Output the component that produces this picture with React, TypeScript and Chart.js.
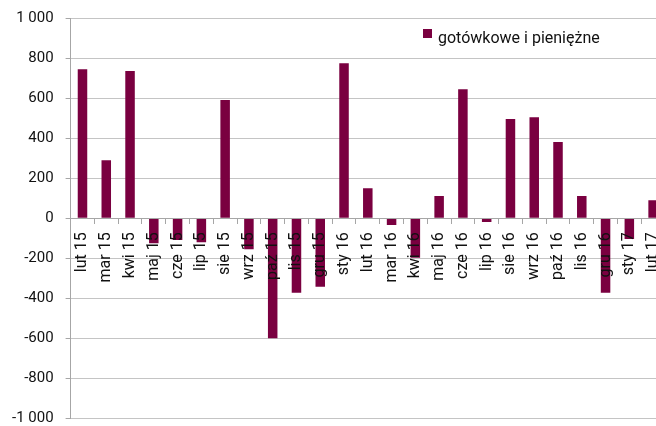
import React, { useEffect, useRef } from "react";
import Chart from "chart.js/auto";

const categories = [
  "lut 15", "mar 15", "kwi 15", "maj 15", "cze 15", "lip 15", "sie 15", "wrz 15",
  "paź 15", "lis 15", "gru 15", "sty 16", "lut 16", "mar 16", "kwi 16", "maj 16",
  "cze 16", "lip 16", "sie 16", "wrz 16", "paź 16", "lis 16", "gru 16", "sty 17", "lut 17",
];
const seriesName = "gotówkowe i pieniężne";
const seriesValues = [
  745, 290, 736, -125, -108, -120, 591, -155,
  -600, -372, -342, 775, 150, -33, -197, 112,
  645, -18, 497, 505, 382, 112, -372, -104, 90,
];
const yMin = -1000;
const yMax = 1000;
const yStep = 200;

const BAR_COLOR = "#7a0040";
const TEXT_COLOR = "#111111";
const AXIS_COLOR = "#a6a6a6";
const FONT = "Roboto";

function formatTick(v: number): string {
  const sign = v < 0 ? "-" : "";
  const s = String(Math.abs(v));
  return sign + s.replace(/\B(?=(\d{3})+(?!\d))/g, " ");
}

const legendPlugin = {
  id: "insideLegend",
  afterDraw(chart: any) {
    const ctx = chart.ctx;
    const ds = chart.data.datasets[0];
    ctx.save();
    ctx.fillStyle = ds.backgroundColor;
    ctx.fillRect(423, 29, 9, 9);
    ctx.fillStyle = TEXT_COLOR;
    ctx.font = `16px ${FONT}`;
    ctx.textBaseline = "alphabetic";
    ctx.textAlign = "left";
    ctx.fillText(ds.label, 438, 43);
    ctx.restore();
  },
};

const zeroPadding = (scale: any) => {
  scale.paddingTop = 0;
  scale.paddingBottom = 0;
  scale.paddingLeft = 0;
  scale.paddingRight = 0;
};

export default function App() {
  const ref = useRef<HTMLCanvasElement | null>(null);
  useEffect(() => {
    document.body.style.margin = "0";
    const canvas = ref.current!;
    const chart = new Chart(canvas, {
      type: "bar",
      data: {
        labels: categories,
        datasets: [
          {
            label: seriesName,
            data: seriesValues,
            backgroundColor: BAR_COLOR,
            borderWidth: 0,
            barPercentage: 0.4,
            categoryPercentage: 1,
          },
        ],
      },
      options: {
        responsive: false,
        animation: false,
        devicePixelRatio: 1,
        layout: { padding: { left: 0, right: 15, top: 18.3, bottom: 7.7 } },
        plugins: {
          legend: { display: false },
          tooltip: { enabled: false },
        },
        scales: {
          x: {
            position: { y: 0 } as any,
            afterFit: zeroPadding,
            grid: {
              display: true,
              drawOnChartArea: false,
              drawTicks: true,
              tickLength: 11,
              tickColor: "rgba(0,0,0,0)",
              color: "rgba(0,0,0,0)",
              offset: true,
            },
            border: { display: true, color: AXIS_COLOR, width: 1, z: 1 },
            ticks: {
              z: 2,
              autoSkip: false,
              minRotation: 90,
              maxRotation: 90,
              color: TEXT_COLOR,
              font: { family: FONT, size: 16 },
            },
          },
          xMarks: {
            type: "category",
            position: { y: 0 } as any,
            afterFit: zeroPadding,
            grid: {
              display: true,
              drawOnChartArea: false,
              drawTicks: true,
              tickLength: 6,
              color: AXIS_COLOR,
              offset: true,
            },
            border: { display: false },
            ticks: { display: false, autoSkip: false },
          },
          y: {
            min: yMin,
            max: yMax,
            afterFit: (scale: any) => {
              scale.width = 70.6;
              scale.paddingTop = 0;
              scale.paddingBottom = 0;
            },
            ticks: {
              stepSize: yStep,
              padding: 12,
              color: TEXT_COLOR,
              font: { family: FONT, size: 15 },
              callback: (v: any) => formatTick(Number(v)),
            },
            grid: {
              color: "#c4c4c4",
              lineWidth: 1,
              tickLength: 5,
              tickColor: AXIS_COLOR,
            },
            border: { display: true, color: AXIS_COLOR, width: 1 },
          },
        },
      } as any,
      plugins: [legendPlugin],
    });
    return () => chart.destroy();
  }, []);
  return (
    <div
      style={{
        position: "fixed",
        left: 0,
        top: 0,
        width: 656,
        height: 426,
        overflow: "hidden",
        background: "#fff",
      }}
    >
      <canvas ref={ref} width={680} height={426} style={{ width: 680, height: 426, display: "block" }} />
    </div>
  );
}
